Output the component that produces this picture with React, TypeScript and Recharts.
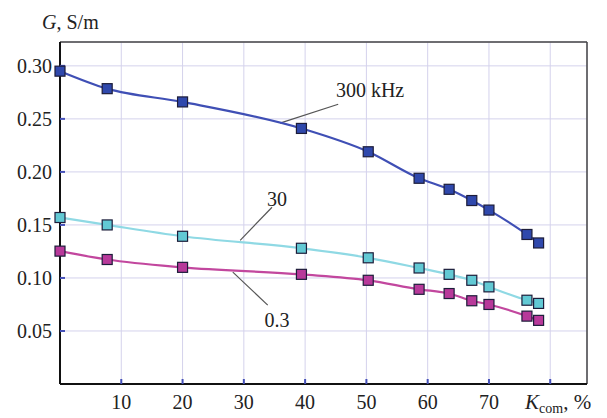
import {
  CartesianGrid,
  Line,
  LineChart,
  ReferenceDot,
  ReferenceLine,
  XAxis,
  YAxis,
} from "recharts";

const kCom = [0, 7.7, 20, 39.4, 50.3, 58.6, 63.5, 67.2, 70, 76.2, 78.1];
const g300kHz = [0.295, 0.2785, 0.266, 0.241, 0.219, 0.194, 0.1836, 0.173, 0.164, 0.141, 0.133];
const g30 = [0.157, 0.150, 0.1393, 0.128, 0.119, 0.1094, 0.1034, 0.0978, 0.0916, 0.079, 0.076];
const g03 = [0.1253, 0.1174, 0.110, 0.1034, 0.0978, 0.0893, 0.0853, 0.0785, 0.075, 0.064, 0.060];

const xTicks = [10, 20, 30, 40, 50, 60, 70, 80];
const yTicks = [0.05, 0.1, 0.15, 0.2, 0.25, 0.3];

const data = kCom.map((k, i) => ({
  k,
  f300: g300kHz[i],
  f30: g30[i],
  f03: g03[i],
}));

const serif = '"Liberation Serif", "Times New Roman", Times, serif';

const squareDot = (fill: string) => (props: any) => {
  const { cx, cy, index } = props;
  if (cx == null || cy == null) return <g key={index} />;
  return (
    <rect
      key={index}
      x={cx - 5}
      y={cy - 5}
      width={10}
      height={10}
      fill={fill}
      stroke="#1d1d3a"
      strokeWidth={1.2}
    />
  );
};

const tickStyle = { fill: "#222", fontSize: 20, fontFamily: serif };

export default function App() {
  return (
    <div
      style={{
        position: "absolute",
        left: 0,
        top: 0,
        background: "#fff",
        fontFamily: serif,
      }}
    >
      <LineChart
        width={607}
        height={418}
        data={data}
        margin={{ top: 42, right: 20, left: 0, bottom: 0 }}
      >
        <CartesianGrid stroke="#d4d2ec" strokeWidth={1} />
        <XAxis
          dataKey="k"
          type="number"
          domain={[0, 86]}
          ticks={xTicks}
          height={34}
          stroke="#111"
          strokeWidth={2}
          tickSize={-5}
          tickMargin={16}
          tickLine={{ stroke: "#4450b8", strokeWidth: 2 }}
          tick={tickStyle}
          tickFormatter={(v: number) => (v === 80 ? "" : String(v))}
          label={{
            content: (p: any) => {
              const vb = p.viewBox;
              return (
                <text
                  x={vb.x + vb.width - 62}
                  y={vb.y + 25}
                  fontFamily={serif}
                  fontSize={21}
                  fill="#222"
                >
                  <tspan fontStyle="italic">K</tspan>
                  <tspan fontSize={14} dy={4}>com</tspan>
                  <tspan dy={-4}>, %</tspan>
                </text>
              );
            },
          }}
        />
        <YAxis
          type="number"
          domain={[0, 0.3225]}
          ticks={yTicks}
          width={60}
          stroke="#111"
          strokeWidth={2}
          tickSize={-5}
          tickMargin={13}
          tickLine={{ stroke: "#4450b8", strokeWidth: 2 }}
          tick={tickStyle}
          tickFormatter={(v: number) => v.toFixed(2)}
          label={{
            content: (p: any) => {
              const vb = p.viewBox;
              return (
                <text
                  x={vb.x + 42}
                  y={vb.y - 13}
                  fontFamily={serif}
                  fontSize={20}
                  fill="#222"
                >
                  <tspan fontStyle="italic">G</tspan>
                  <tspan>, S/m</tspan>
                </text>
              );
            },
          }}
        />
        <ReferenceLine y={0.3225} stroke="#444" strokeWidth={1.5} />
        <ReferenceLine x={86} stroke="#444" strokeWidth={1.5} />

        <ReferenceLine
          segment={[
            { x: 35.9, y: 0.246 },
            { x: 45.4, y: 0.2638 },
          ]}
          stroke="#555"
          strokeWidth={1.2}
        />
        <ReferenceLine
          segment={[
            { x: 34.6, y: 0.1667 },
            { x: 29.4, y: 0.1355 },
          ]}
          stroke="#555"
          strokeWidth={1.2}
        />
        <ReferenceLine
          segment={[
            { x: 28.2, y: 0.1055 },
            { x: 33.9, y: 0.0744 },
          ]}
          stroke="#555"
          strokeWidth={1.2}
        />
        <ReferenceDot
          x={50.6}
          y={0.277}
          r={0}
          fill="none"
          stroke="none"
          label={{ value: "300 kHz", position: "center", fontSize: 20, fontFamily: serif, fill: "#222" }}
        />
        <ReferenceDot
          x={35.4}
          y={0.175}
          r={0}
          fill="none"
          stroke="none"
          label={{ value: "30", position: "center", fontSize: 20, fontFamily: serif, fill: "#222" }}
        />
        <ReferenceDot
          x={35.4}
          y={0.06}
          r={0}
          fill="none"
          stroke="none"
          label={{ value: "0.3", position: "center", fontSize: 20, fontFamily: serif, fill: "#222" }}
        />

        <Line
          type="monotone"
          dataKey="f03"
          stroke="#c2479e"
          strokeWidth={2.2}
          dot={squareDot("#b8399a")}
          isAnimationActive={false}
        />
        <Line
          type="monotone"
          dataKey="f30"
          stroke="#8fd9e4"
          strokeWidth={2.2}
          dot={squareDot("#62c9d4")}
          isAnimationActive={false}
        />
        <Line
          type="monotone"
          dataKey="f300"
          stroke="#3f4fb5"
          strokeWidth={2.2}
          dot={squareDot("#2f48ac")}
          isAnimationActive={false}
        />
      </LineChart>
    </div>
  );
}
